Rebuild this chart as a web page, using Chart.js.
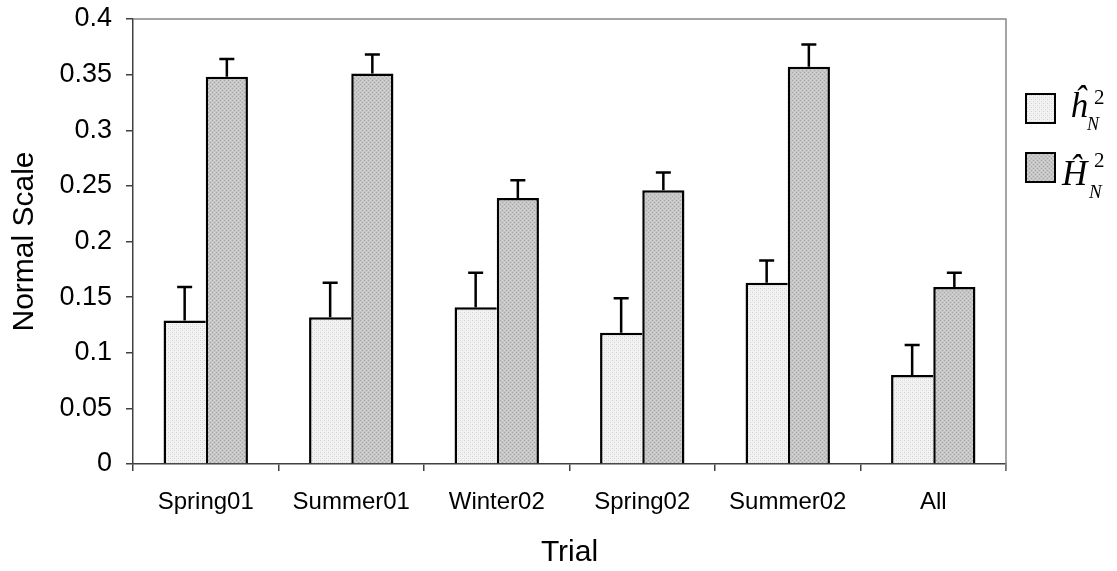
<!DOCTYPE html>
<html>
<head>
<meta charset="utf-8">
<script src="https://cdn.jsdelivr.net/npm/chart.js@4.4.0/dist/chart.umd.min.js"></script>
<style>
  body { margin: 0; background: #fff; }
  #wrap { position: relative; width: 1117px; height: 571px; }
  .legBox { position: absolute; width: 27px; height: 27px; border: 2px solid #000; }
  .sym { position: absolute; font-family: "Liberation Serif", "DejaVu Serif", serif; font-style: italic; line-height: 1; color: #000; white-space: nowrap; }
  .num { font-style: normal; }
</style>
</head>
<body>
<div id="wrap">
  <canvas id="chart" width="1117" height="571"></canvas>
  <div class="legBox" id="legH1" style="left:1025px; top:93px;"></div>
  <span class="sym" style="left:1070px; top:88px; font-size:35px;">ĥ</span>
  <span class="sym num" style="left:1094px; top:87px; font-size:21px;">2</span>
  <span class="sym" style="left:1087px; top:115px; font-size:18px;">N</span>
  <div class="legBox" id="legH2" style="left:1025px; top:152px;"></div>
  <span class="sym" style="left:1062px; top:156px; font-size:35px;">Ĥ</span>
  <span class="sym num" style="left:1094px; top:150px; font-size:21px;">2</span>
  <span class="sym" style="left:1089px; top:182px; font-size:19px;">N</span>
</div>
<script>
// Chart data
const categories = ['Spring01', 'Summer01', 'Winter02', 'Spring02', 'Summer02', 'All'];
const hValues = [0.129, 0.132, 0.141, 0.118, 0.163, 0.080];
const hErrors = [0.030, 0.031, 0.031, 0.031, 0.020, 0.027];
const bigHValues = [0.348, 0.351, 0.239, 0.246, 0.357, 0.159];
const bigHErrors = [0.016, 0.017, 0.016, 0.016, 0.020, 0.013];
const yTickLabels = ['0', '0.05', '0.1', '0.15', '0.2', '0.25', '0.3', '0.35', '0.4'];

// small dotted fill patterns like the old spreadsheet hatch
function makePattern(base, dot, dot2) {
    const c = document.createElement('canvas');
    c.width = 4; c.height = 4;
    const g = c.getContext('2d');
    g.fillStyle = base;
    g.fillRect(0, 0, 4, 4);
    g.fillStyle = dot;
    g.fillRect(0, 0, 1, 1);
    g.fillRect(2, 2, 1, 1);
    if (dot2) {
        g.fillStyle = dot2;
        g.fillRect(2, 0, 1, 1);
        g.fillRect(0, 2, 1, 1);
    }
    return c;
}

const lightTile = makePattern('#f3f3f3', '#d4d4d4', '#e6e6e6');
const darkTile = makePattern('#c6c6c6', '#a6a6a6', '#d6d6d6');
const ctx = document.getElementById('chart').getContext('2d');
const lightFill = ctx.createPattern(lightTile, 'repeat');
const darkFill = ctx.createPattern(darkTile, 'repeat');

document.getElementById('legH1').style.background = `url(${lightTile.toDataURL()})`;
document.getElementById('legH2').style.background = `url(${darkTile.toDataURL()})`;

const errorBars = {
    id: 'errorBars',
    afterDatasetsDraw(chart) {
        const y = chart.scales.y;
        const c = chart.ctx;
        c.save();
        c.strokeStyle = '#000';
        c.lineWidth = 2.5;
        chart.data.datasets.forEach((ds, i) => {
            const meta = chart.getDatasetMeta(i);
            meta.data.forEach((bar, j) => {
                const top = y.getPixelForValue(ds.data[j] + ds.errors[j]);
                c.beginPath();
                c.moveTo(bar.x, bar.y);
                c.lineTo(bar.x, top);
                c.moveTo(bar.x - 7.5, top);
                c.lineTo(bar.x + 7.5, top);
                c.stroke();
            });
        });
        c.restore();
    }
};

const frame = {
    id: 'frame',
    beforeDatasetsDraw(chart) {
        const a = chart.chartArea;
        const c = chart.ctx;
        c.save();
        c.strokeStyle = '#888';
        c.lineWidth = 1.5;
        c.beginPath();
        c.moveTo(a.left, a.top);
        c.lineTo(a.right, a.top);
        c.lineTo(a.right, a.bottom + 7);
        c.stroke();
        c.restore();
    }
};

new Chart(ctx, {
    type: 'bar',
    data: {
        labels: categories,
        datasets: [{
            label: 'h',
            data: hValues,
            errors: hErrors,
            backgroundColor: lightFill,
            borderColor: '#000',
            borderWidth: { top: 2.5, left: 2.5, right: 0, bottom: 0 },
            categoryPercentage: 0.58,
            barPercentage: 1.0
        }, {
            label: 'H',
            data: bigHValues,
            errors: bigHErrors,
            backgroundColor: darkFill,
            borderColor: '#000',
            borderWidth: { top: 2.5, left: 2.5, right: 2.5, bottom: 0 },
            categoryPercentage: 0.58,
            barPercentage: 1.0
        }]
    },
    options: {
        responsive: false,
        devicePixelRatio: 1,
        animation: false,
        layout: { padding: { top: 19, right: 111, left: 0, bottom: 0 } },
        plugins: {
            legend: { display: false },
            tooltip: { enabled: false }
        },
        scales: {
            x: {
                grid: { drawOnChartArea: false, tickLength: 7, color: '#404040', lineWidth: 1.5 },
                border: { color: '#404040', width: 1.5 },
                ticks: {
                    color: '#000',
                    padding: 17,
                    maxRotation: 0,
                    font: { family: 'Liberation Sans, Arial, sans-serif', size: 24 }
                },
                title: {
                    display: true,
                    text: 'Trial',
                    color: '#000',
                    padding: { top: 0, bottom: 0 },
                    font: { family: 'Liberation Sans, Arial, sans-serif', size: 30 }
                },
                afterFit(scale) {
                    scale.height = 107;
                    scale.paddingLeft = 0;
                    scale.paddingRight = 0;
                }
            },
            y: {
                min: 0,
                max: 0.4,
                grid: { drawOnChartArea: false, tickLength: 7, color: '#404040', lineWidth: 1.5 },
                border: { color: '#404040', width: 1.5 },
                ticks: {
                    stepSize: 0.05,
                    color: '#000',
                    padding: 14,
                    font: { family: 'Liberation Sans, Arial, sans-serif', size: 27 },
                    callback: (v, i) => yTickLabels[i]
                },
                title: {
                    display: true,
                    text: 'Normal Scale',
                    color: '#000',
                    padding: { top: 7, bottom: 0 },
                    font: { family: 'Liberation Sans, Arial, sans-serif', size: 30 }
                },
                afterFit(scale) {
                    scale.width = 133;
                    scale.paddingTop = 0;
                    scale.paddingBottom = 0;
                }
            }
        }
    },
    plugins: [frame, errorBars]
});
</script>
</body>
</html>
